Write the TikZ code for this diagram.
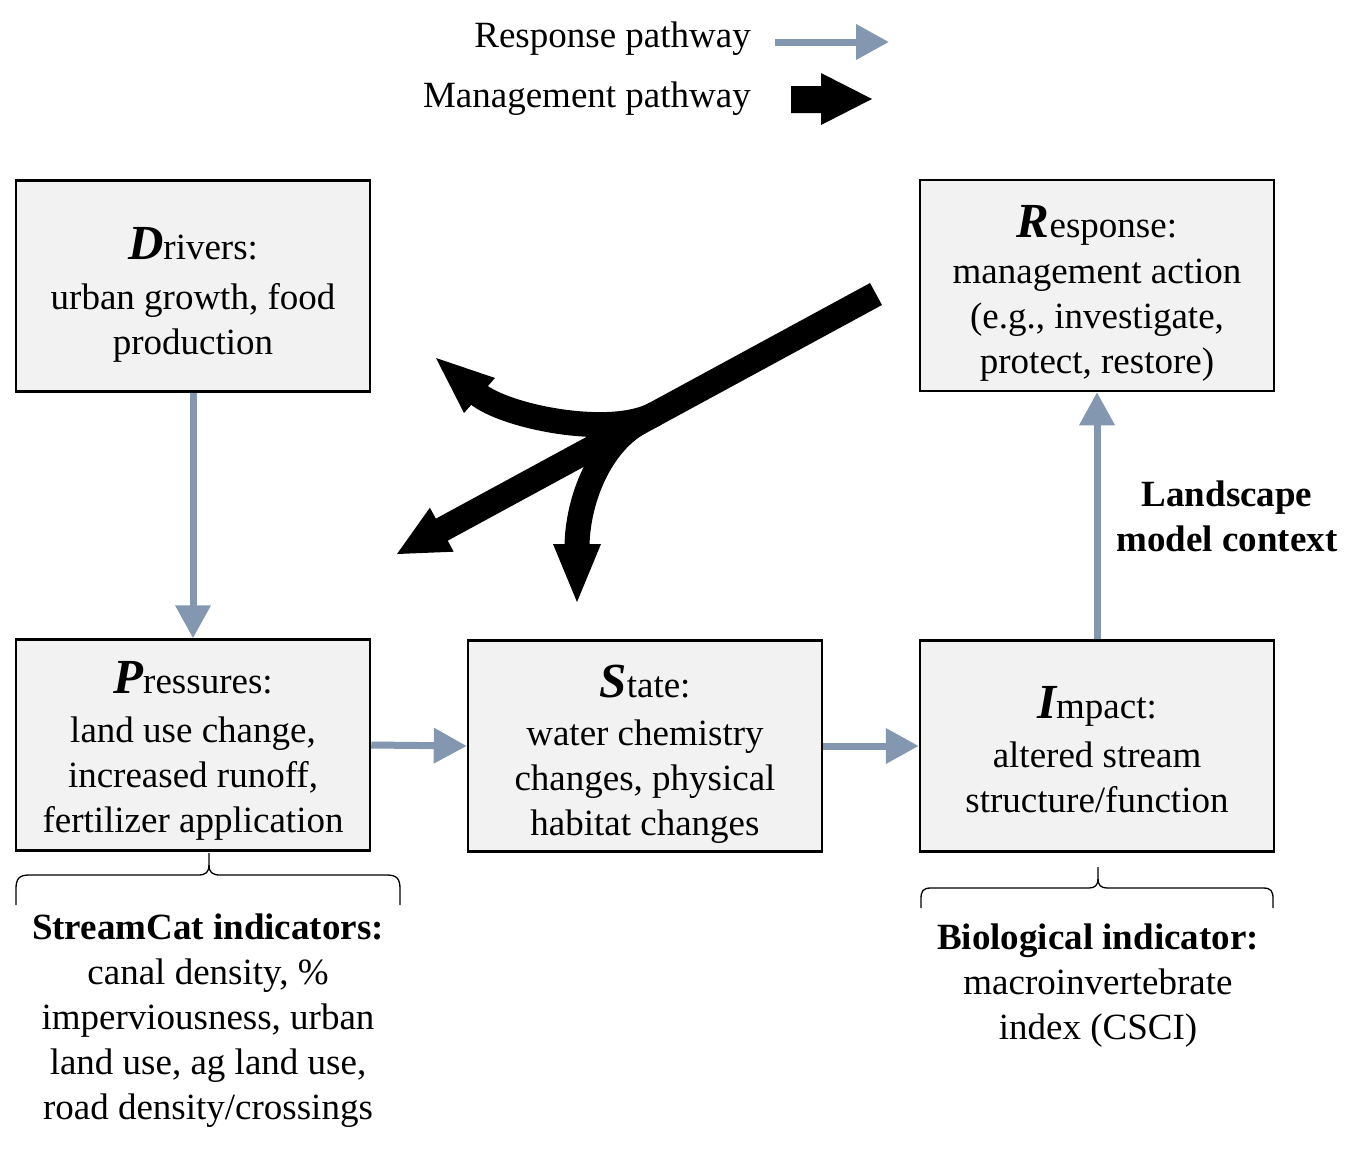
\documentclass[tikz,border=0pt]{standalone}
\usepackage{fontspec}
\setmainfont{Liberation Serif}
\usetikzlibrary{arrows.meta}
\definecolor{respblue}{RGB}{132,151,176}
\definecolor{boxfill}{RGB}{242,242,242}
\newcommand\BigInit[1]{{\fontsize{49}{45}\selectfont\bfseries\itshape #1}}
\begin{document}
\begin{tikzpicture}[x=1pt,y=-1pt,
  every node/.style={font=\fontsize{37}{45}\selectfont},
  box/.style={draw=black, line width=2.5pt, fill=boxfill, minimum width=354pt, minimum height=211pt, inner sep=0pt},
  boxtext/.style={anchor=base, text width=354pt, align=flush center, inner sep=0pt},
  resp/.style={draw=respblue, line width=7pt, -{Triangle[length=33pt,width=34pt]}},
  mgmt/.style={draw=black, line width=25pt},
  bracestyle/.style={draw=black, line width=1.3pt}]
\useasboundingbox (0,0) rectangle (1362,1151);

% boxes
\node[box] (D) at (193,286) {};
\node[box] (R) at (1097,285.5) {};
\node[box] (P) at (193,745) {};
\node[box] (S) at (645,746) {};
\node[box] (I) at (1097,746) {};

% box texts
\node[boxtext] (Dt) at (193,259) {\BigInit{D}rivers:\\[5pt] urban growth, food\\ production};
\node[boxtext] (Rt) at (1097,237) {\BigInit{R}esponse:\\[1pt] management action\\ (e.g., investigate,\\ protect, restore)};
\node[boxtext] (Pt) at (193,693) {\BigInit{P}ressures:\\[4pt] land use change,\\ increased runoff,\\ fertilizer application};
\node[boxtext] (St) at (645,697) {\BigInit{S}tate:\\[3pt] water chemistry\\ changes, physical\\ habitat changes};
\node[boxtext] (It) at (1097,718) {\BigInit{I}mpact:\\[4pt] altered stream\\ structure/function};

% other texts
\node[boxtext, text width=400pt] (SC) at (208,939) {\textbf{StreamCat indicators:}\\ canal density, \%\\ imperviousness, urban\\ land use, ag land use,\\ road density/crossings};
\node[boxtext, text width=400pt] (BI) at (1098,949) {\textbf{Biological indicator:}\\ macroinvertebrate\\ index (CSCI)};
\node[boxtext, text width=260pt] (LM) at (1227,506) {\textbf{Landscape}\\ \textbf{model context}};

% legend
\node[anchor=base east, inner sep=0pt] (L1) at (751,47) {Response pathway};
\node[anchor=base east, inner sep=0pt] (L2) at (751,107) {Management pathway};
\coordinate (la) at (775,42);
\coordinate (lb) at (889,42);
\draw[resp] (la) -- (lb);
\fill[black] (791,86) -- (821,86) -- (821,73) -- (872,99) -- (821,125) -- (821,113) -- (791,113) -- cycle;

% response pathway arrows
\draw[resp] (D.south) -- (P.north);
\draw[resp] (P.east) -- (S.west);
\draw[resp] (S.east) -- (I.west);
\draw[resp] (I.north) -- (R.south);

% management fork
\coordinate (mStart) at (876,294);
\coordinate (mEnd) at (437.5,532);
\draw[mgmt] (mStart) -- (mEnd);
\fill[black] (397,554) -- (429.9,507.7) -- (453.7,551.7) -- cycle;
\draw[mgmt] (655,414) .. controls (611,438) and (505,417) .. (477,393.5);
\fill[black] (436,358) -- (495,378) -- (464,413) -- cycle;
\draw[mgmt] (640,422) .. controls (600.4,443.5) and (577,500) .. (577,548);
\fill[black] (577,602) -- (553,544) -- (601,544) -- cycle;

% braces
\draw[bracestyle] (16,905) -- (16,889) .. controls (16,879) and (19,875) .. (29,875) -- (198,875) .. controls (206,875) and (209,872) .. (209,865) -- (209,853);
\draw[bracestyle] (209,865) .. controls (209,872) and (212,875) .. (220,875) -- (387,875) .. controls (397,875) and (400,879) .. (400,889) -- (400,905);
\draw[bracestyle] (921,908) -- (921,899) .. controls (921,891) and (923,888) .. (931,888) -- (1089,888) .. controls (1095,888) and (1098,885) .. (1098,879) -- (1098,867);
\draw[bracestyle] (1098,879) .. controls (1098,885) and (1101,888) .. (1107,888) -- (1263,888) .. controls (1271,888) and (1273,891) .. (1273,899) -- (1273,908);
\end{tikzpicture}
\end{document}
